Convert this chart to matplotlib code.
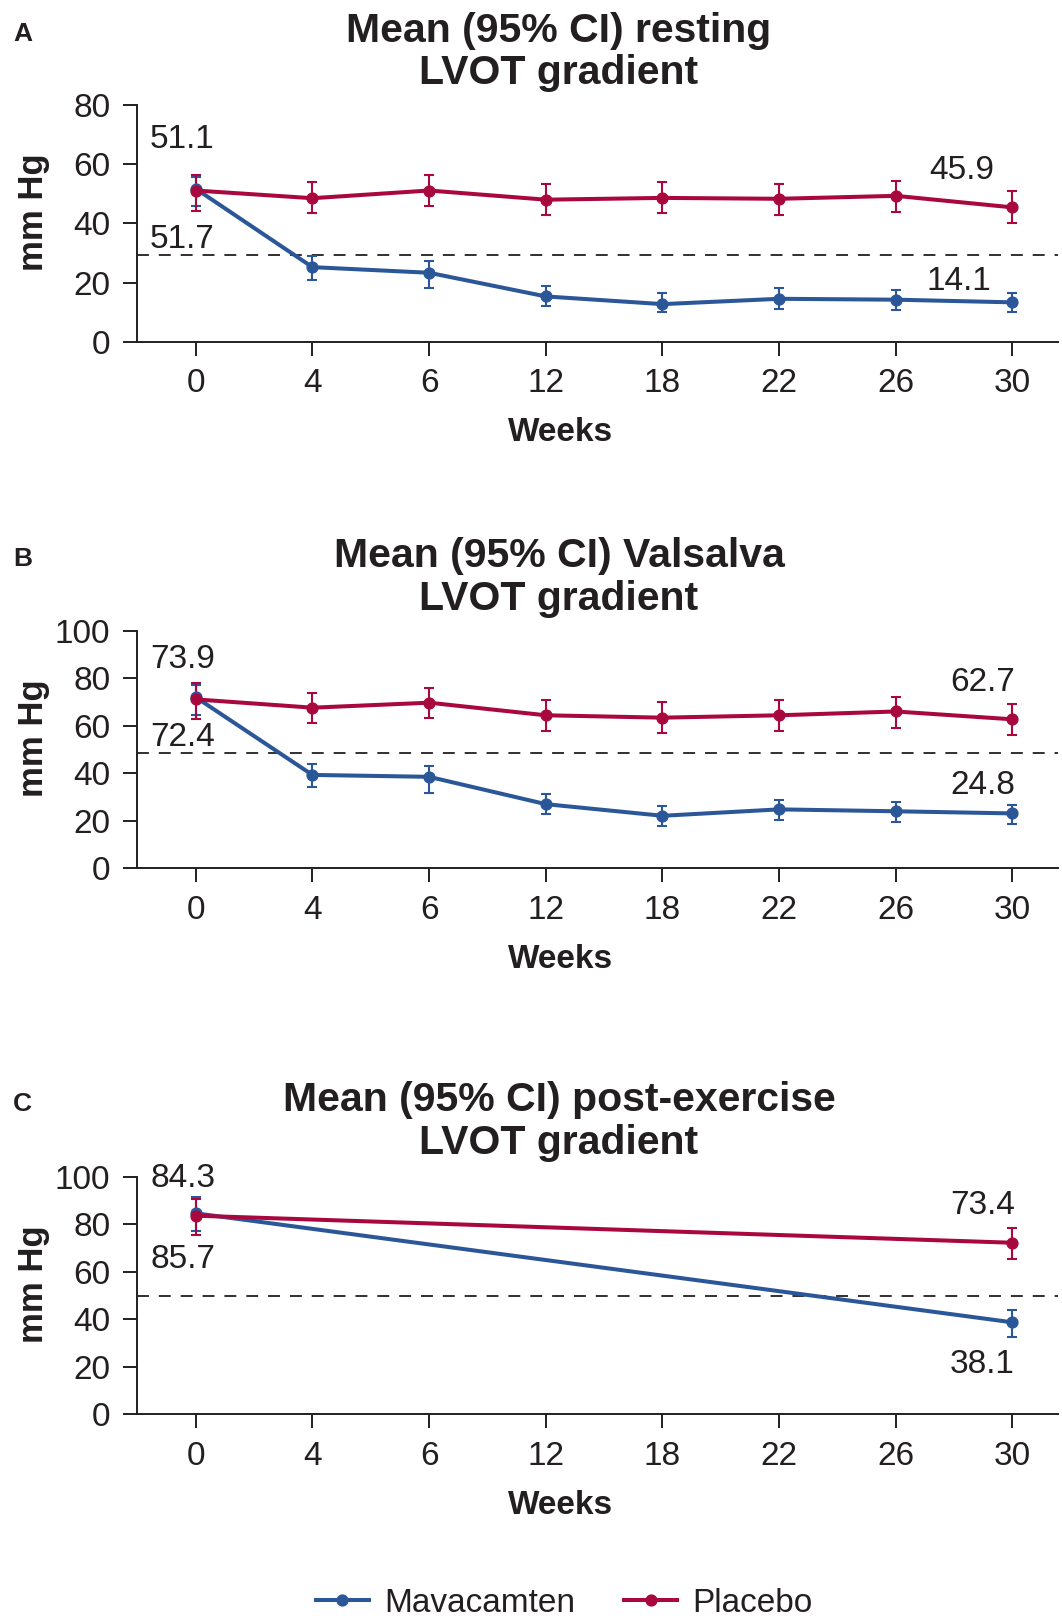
import numpy as np
import matplotlib
matplotlib.use("Agg")
import matplotlib.pyplot as plt
from matplotlib.lines import Line2D

plt.rcParams['font.family'] = ['Liberation Sans', 'DejaVu Sans']

# x categories (weeks)
weeks = ['0', '4', '6', '12', '18', '22', '26', '30']

# A: resting LVOT gradient, mean and 95% CI
a_mava = [51.7, 25.2, 23.3, 15.3, 12.7, 14.5, 14.2, 13.3]
a_mava_lo = [45.7, 21.0, 18.0, 11.9, 9.9, 11.1, 10.8, 9.9]
a_mava_hi = [55.5, 29.0, 27.3, 18.7, 16.5, 18.0, 17.6, 16.3]
a_plac = [51.1, 48.5, 51.1, 48.0, 48.6, 48.3, 49.3, 45.4]
a_plac_lo = [44.3, 43.5, 46.0, 42.8, 43.5, 42.8, 44.0, 40.1]
a_plac_hi = [56.2, 54.0, 56.2, 53.4, 54.0, 53.4, 54.2, 50.9]

# B: Valsalva LVOT gradient
b_mava = [72.0, 39.3, 38.5, 27.0, 22.1, 24.8, 24.0, 23.1]
b_mava_lo = [64.5, 34.3, 31.8, 22.8, 17.8, 20.3, 19.6, 18.8]
b_mava_hi = [77.0, 43.9, 43.0, 31.3, 26.3, 28.7, 27.9, 26.8]
b_plac = [71.1, 67.6, 69.7, 64.4, 63.4, 64.4, 66.0, 62.7]
b_plac_lo = [62.8, 61.3, 63.4, 57.9, 56.9, 57.8, 59.2, 56.1]
b_plac_hi = [77.8, 73.9, 76.0, 70.8, 70.1, 70.8, 72.1, 69.1]

# C: post-exercise LVOT gradient, only baseline and week 30
c_idx = [0, 7]
c_mava = [84.6, 38.7]
c_mava_lo = [77.1, 32.7]
c_mava_hi = [91.6, 43.9]
c_plac = [83.6, 72.2]
c_plac_lo = [75.5, 65.5]
c_plac_hi = [90.5, 78.4]

# dashed reference lines
thresholds = [29.2, 48.6, 50]

BLUE = '#2b5799'
RED = '#a9083f'
INK = '#231f20'

W, H = 1062, 1621
fig = plt.figure(figsize=(W / 100, H / 100), dpi=100)


def make_axes(top, bottom):
    return fig.add_axes([136.7 / W, 1 - bottom / H, (1058 - 136.7) / W, (bottom - top) / H])


def draw_series(ax, x, y, lo, hi, color):
    y = np.array(y)
    err = [y - np.array(lo), np.array(hi) - y]
    ax.errorbar(x, y, yerr=err, color=color, lw=2.9, marker='o', ms=7.8,
                capsize=3.4, elinewidth=1.5, capthick=1.5)


def style_axes(ax, ymax, thr):
    ax.set_xlim(-0.506, 7.39)
    ax.set_ylim(0, ymax)
    ax.set_xticks(range(len(weeks)))
    ax.set_xticklabels(weeks)
    ax.set_yticks(np.arange(0, ymax + 1, 20))
    for s in ['top', 'right']:
        ax.spines[s].set_visible(False)
    for s in ['left', 'bottom']:
        ax.spines[s].set_color(INK)
        ax.spines[s].set_linewidth(1.4)
    ax.tick_params(direction='out', length=10, width=1.4, color=INK,
                   labelsize=24, labelcolor=INK, pad=9)
    ax.axhline(thr, color=INK, lw=1.3, ls=(0, (6.6, 5.5)), zorder=1)
    ax.set_xlabel('Weeks', fontsize=24, fontweight='bold', color=INK)
    ax.xaxis.set_label_coords(0.4595, -91 / 237)
    ax.xaxis.label.set_va('center')
    ax.set_ylabel('mm Hg', fontsize=25, fontweight='bold', color=INK)
    ax.yaxis.set_label_coords(-0.1115, 0.549)
    ax.yaxis.label.set_va('center')


def put_title(base1, base2, line1):
    fig.text(559 / W, 1 - base1 / H, line1, ha='center', va='baseline',
             fontsize=29.5, fontweight='bold', color=INK)
    fig.text(559 / W, 1 - base2 / H, 'LVOT gradient', ha='center', va='baseline',
             fontsize=29.5, fontweight='bold', color=INK)


def put_letter(yc, letter):
    fig.text(13 / W, 1 - yc / H, letter, ha='left', va='center',
             fontsize=19, fontweight='bold', color=INK)


x = np.arange(len(weeks))

# Panel A
axA = make_axes(105, 341.7)
draw_series(axA, x, a_mava, a_mava_lo, a_mava_hi, BLUE)
draw_series(axA, x, a_plac, a_plac_lo, a_plac_hi, RED)
style_axes(axA, 80, thresholds[0])
axA.text(-0.392, 65.3, '51.1', fontsize=24, color=INK, va='baseline')
axA.text(-0.392, 31.6, '51.7', fontsize=24, color=INK, va='baseline')
axA.text(6.84, 55.1, '45.9', fontsize=24, color=INK, va='baseline', ha='right')
axA.text(6.82, 17.4, '14.1', fontsize=24, color=INK, va='baseline', ha='right')
put_title(42, 84, 'Mean (95% CI) resting')
put_letter(34, 'A')

# Panel B
axB = make_axes(630.7, 868.3)
draw_series(axB, x, b_mava, b_mava_lo, b_mava_hi, BLUE)
draw_series(axB, x, b_plac, b_plac_lo, b_plac_hi, RED)
style_axes(axB, 100, thresholds[1])
axB.text(-0.392, 84.4, '73.9', fontsize=24, color=INK, va='baseline')
axB.text(-0.392, 51.5, '72.4', fontsize=24, color=INK, va='baseline')
axB.text(7.02, 74.6, '62.7', fontsize=24, color=INK, va='baseline', ha='right')
axB.text(7.02, 31.3, '24.8', fontsize=24, color=INK, va='baseline', ha='right')
put_title(567, 610, 'Mean (95% CI) Valsalva')
put_letter(558.7, 'B')

# Panel C
axC = make_axes(1176.7, 1414.3)
draw_series(axC, c_idx, c_mava, c_mava_lo, c_mava_hi, BLUE)
draw_series(axC, c_idx, c_plac, c_plac_lo, c_plac_hi, RED)
style_axes(axC, 100, thresholds[2])
axC.text(-0.392, 95.8, '84.3', fontsize=24, color=INK, va='baseline')
axC.text(-0.392, 61.6, '85.7', fontsize=24, color=INK, va='baseline')
axC.text(7.02, 84.3, '73.4', fontsize=24, color=INK, va='baseline', ha='right')
axC.text(7.02, 17.4, '38.1', fontsize=24, color=INK, va='baseline', ha='right')
put_title(1111, 1154, 'Mean (95% CI) post-exercise')
put_letter(1104, 'C')

# legend at the bottom
handles = [Line2D([], [], color=BLUE, lw=2.9, marker='o', ms=7.8),
           Line2D([], [], color=RED, lw=2.9, marker='o', ms=7.8)]
fig.legend(handles, ['Mavacamten', 'Placebo'], loc='center', ncol=2,
           bbox_to_anchor=(564 / W, 1 - 1603 / H), frameon=False, fontsize=24,
           handlelength=1.6, handletextpad=0.45, columnspacing=1.47,
           labelcolor=INK, borderpad=0)

fig.savefig('out.png', dpi=100)
